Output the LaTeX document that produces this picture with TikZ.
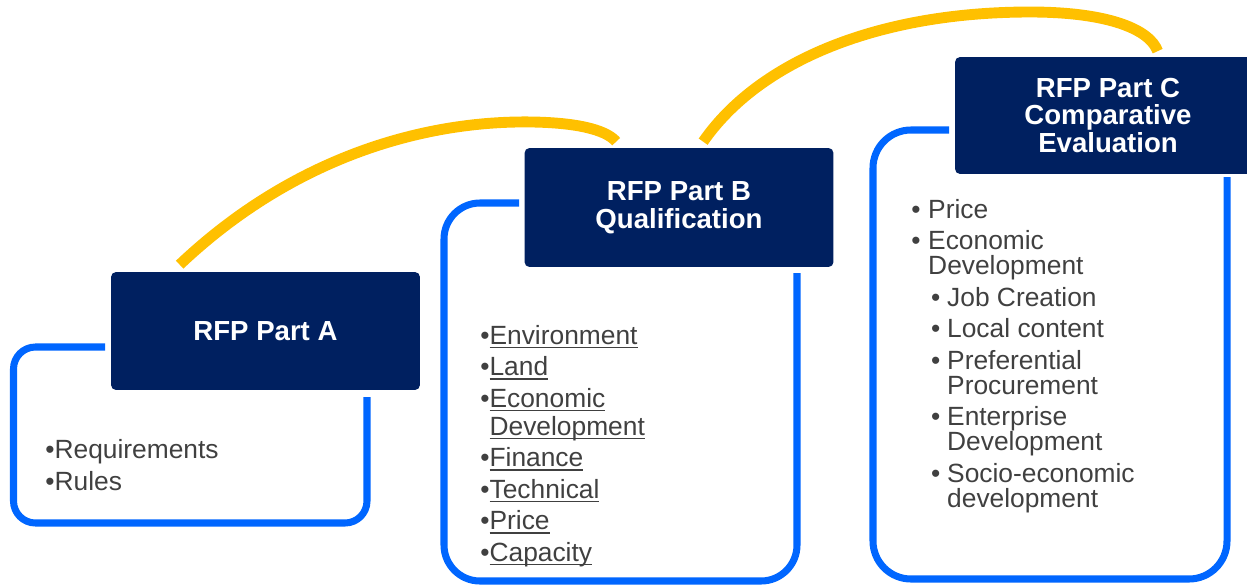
\documentclass[tikz,border=0pt]{standalone}
\usepackage{fontspec}
\setmainfont{Liberation Sans}
\usepackage{xcolor}
\usetikzlibrary{calc}

\definecolor{navy}{HTML}{002060}
\definecolor{frameblue}{HTML}{0066FF}
\definecolor{gold}{HTML}{FFC000}
\definecolor{bodygrey}{HTML}{404040}

\newsavebox{\ulbox}
\newcommand{\lnk}[1]{\sbox{\ulbox}{#1}\rlap{\rule[-2.4pt]{\wd\ulbox}{0.8pt}}\usebox{\ulbox}}
\newcommand{\lvlone}{\makebox[9.6pt][l]{•}}
\newcommand{\lvltwo}{\hspace*{11.3pt}\makebox[9.1pt][l]{•}}

\tikzset{
    partbox/.style={fill=navy, rounded corners=0.1cm, text=white, align=center, inner sep=0pt,
        font=\bfseries\fontsize{15.7}{15.8}\selectfont, minimum width=6.18cm, minimum height=2.36cm},
    frame/.style={draw=frameblue, line width=4pt},
    link/.style={draw=gold, line width=6.2pt},
    itemlist/.style={anchor=base west, align=left, text=bodygrey, inner sep=0pt,
        font=\fontsize{15}{16}\selectfont},
}

\begin{document}
\begin{tikzpicture}[x=0.02cm, y=-0.02cm]
    \useasboundingbox (0,0) rectangle (1247,585);
    \clip (0,0) rectangle (1247,585);

    % blue frames behind the headings
    \draw[frame, rounded corners=0.44cm] (105,347) -| (13.5,523) -| (367,397);
    \draw[frame, rounded corners=0.72cm] (519,203) -| (444,581) -| (797,273);
    \draw[frame, rounded corners=0.76cm] (949,130) -| (873,579) -| (1227,177);

    % headings
    \node[partbox] (partA) at (265.5,331) {RFP Part A};
    \node[partbox, minimum height=2.38cm] (partB) at (679,207.5) {RFP Part B\\Qualification};
    \node[partbox, minimum width=6.12cm, minimum height=2.34cm] (partC) at (1108,115.5)
        {RFP Part C\\Comparative\\Evaluation};

    % yellow links
    \draw[link] ([xshift=1.38cm, yshift=0.14cm]partA.north west)
        .. controls (290,160) and (420,120) .. (533,122)
        .. controls (585,123) and (608,132) .. ([xshift=1.84cm, yshift=0.12cm]partB.north west);
    \draw[link] ([xshift=3.58cm, yshift=0.12cm]partB.north west)
        .. controls (760,60) and (880,12) .. (1030,12)
        .. controls (1110,12) and (1150,30) .. ([xshift=4.06cm, yshift=0.11cm]partC.north west);

    % lists (base = last line)
    \node[itemlist] (listA) at (45,490) {•Requirements\\[2pt]•Rules};
    \node[itemlist] (listB) at (480,561) {%
        •\lnk{Environment}\\[1.9pt]
        •\lnk{Land}\\[1.9pt]
        •\lnk{Economic}\\
        \phantom{•}\lnk{Development}\\[1.9pt]
        •\lnk{Finance}\\[1.9pt]
        •\lnk{Technical}\\[1.9pt]
        •\lnk{Price}\\[1.9pt]
        •\lnk{Capacity}};
    \node[itemlist, font=\fontsize{15}{14.2}\selectfont] (listC) at (911,507) {%
        \lvlone Price\\[3.7pt]
        \lvlone Economic\\
        \hspace*{9.6pt}Development\\[3.7pt]
        \lvltwo Job Creation\\[3.7pt]
        \lvltwo Local content\\[3.7pt]
        \lvltwo Preferential\\
        \hspace*{20.4pt}Procurement\\[3.7pt]
        \lvltwo Enterprise\\
        \hspace*{20.4pt}Development\\[3.7pt]
        \lvltwo Socio-economic\\
        \hspace*{20.4pt}development};
\end{tikzpicture}
\end{document}
